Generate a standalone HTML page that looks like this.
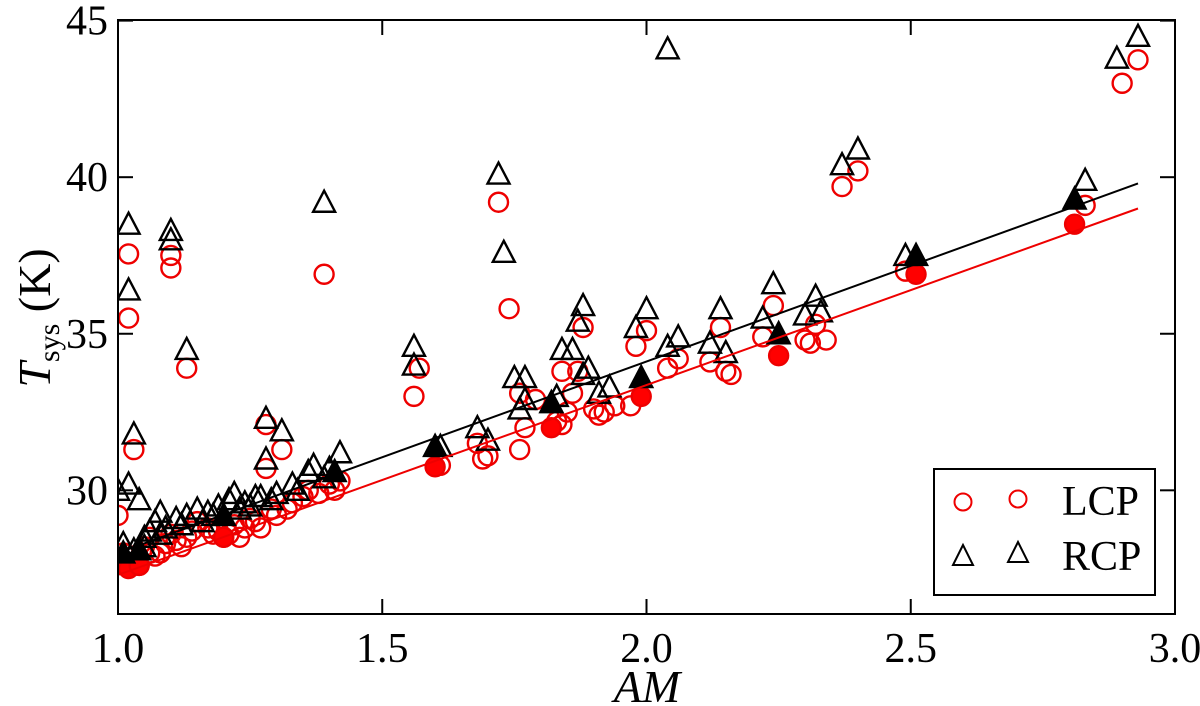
<!DOCTYPE html>
<html><head><meta charset="utf-8"><style>
html,body{margin:0;padding:0;background:#fff;}
svg{display:block;}
text{font-family:"Liberation Serif","Times New Roman",Times,"Nimbus Roman","FreeSerif","DejaVu Serif",serif;}
</style></head><body>
<svg id="chart" width="1200" height="706" viewBox="0 0 1200 706" xmlns="http://www.w3.org/2000/svg">
<g id="marks"></g>
<g id="axes"></g>
</svg>
<script>
const xTicks=[1.0,1.5,2.0,2.5,3.0];
const xTickLabels=["1.0","1.5","2.0","2.5","3.0"];
const yTicks=[30,35,40,45];
const yTickLabels=["30","35","40","45"];
const lcpOpen=[[1.02,37.55],[1.02,35.5],[1.03,31.3],[1.10,37.5],[1.10,37.1],[1.13,33.9],[1.39,36.9],[1.56,33.0],[1.57,33.9],[1.72,39.2],[1.74,35.8],[2.37,39.7],[2.40,40.2],[2.90,43.0],[2.93,43.75],[2.83,39.1],[1.28,32.1],[1.28,30.7],[1.31,31.3],
[1.00,29.2],[1.01,28.0],[1.02,27.7],[1.04,27.6],[1.05,28.2],[1.06,28.5],[1.07,27.9],[1.08,28.0],[1.09,28.3],[1.10,28.6],[1.12,28.2],[1.13,28.5],[1.15,29.0],[1.17,28.8],[1.19,28.7],[1.20,28.5],[1.21,28.6],[1.22,28.9],[1.23,28.5],[1.25,29.1],[1.27,28.8],[1.29,29.4],[1.30,29.2],[1.33,29.6],[1.36,30.0],[1.38,29.9],[1.40,30.2],[1.42,30.3],[1.61,30.8],[1.69,31.0],[1.70,31.1],[1.68,31.5],[1.76,31.3],[1.77,32.0],[1.76,33.1],[1.79,32.9],[1.83,32.2],[1.84,32.1],[1.85,32.5],[1.86,33.1],[1.87,33.8],[1.88,35.2],[1.84,33.8],[1.90,32.6],[1.91,32.4],[1.92,32.5],[1.94,32.7],[1.97,32.7],[1.98,34.6],[2.00,35.1],[2.04,33.9],[2.06,34.2],[2.12,34.1],[2.14,35.2],[2.15,33.8],[2.16,33.7],[2.22,34.9],[2.24,35.9],[2.30,34.8],[2.31,34.7],[2.32,35.3],[2.34,34.8],[2.49,37.0],
[1.03,27.9],[1.06,28.0],[1.11,28.4],[1.14,28.7],[1.18,28.6],[1.24,28.8],[1.26,29.0],[1.32,29.4],[1.35,29.8],[1.41,30.0]];
const lcpFilled=[[1.02,27.5],[1.04,27.6],[1.20,28.5],[1.60,30.75],[1.82,32.0],[1.99,33.0],[2.25,34.3],[2.51,36.9],[2.81,38.5]];
const rcpOpen=[[1.02,38.5],[1.02,36.4],[1.03,31.8],[1.10,38.3],[1.10,38.0],[1.13,34.5],[1.39,39.2],[1.56,34.6],[1.56,34.0],[1.72,40.1],[1.73,37.6],[2.04,44.1],[2.37,40.4],[2.40,40.9],[2.89,43.8],[2.93,44.5],[2.83,39.9],[1.28,32.3],[1.28,31.0],[1.31,31.9],
[1.00,30.0],[1.02,30.2],[1.04,29.7],[1.01,28.3],[1.03,28.1],[1.05,28.5],[1.06,28.7],[1.07,29.0],[1.08,29.3],[1.09,28.8],[1.11,29.1],[1.13,29.2],[1.15,29.4],[1.17,29.3],[1.19,29.5],[1.21,29.7],[1.22,29.9],[1.24,29.6],[1.26,29.8],[1.27,29.8],[1.30,29.9],[1.33,30.2],[1.36,30.6],[1.37,30.8],[1.40,30.7],[1.42,31.2],[1.61,31.4],[1.68,32.0],[1.70,31.6],[1.75,33.6],[1.77,33.6],[1.76,32.6],[1.77,32.9],[1.83,33.0],[1.84,34.5],[1.86,34.5],[1.87,35.4],[1.88,35.9],[1.88,33.7],[1.89,33.9],[1.91,33.1],[1.93,33.3],[1.98,35.2],[2.00,35.8],[2.04,34.6],[2.06,34.9],[2.12,34.7],[2.14,35.8],[2.15,34.4],[2.22,35.5],[2.24,36.6],[2.30,35.6],[2.32,36.2],[2.33,35.7],[2.49,37.5],
[1.05,28.2],[1.08,28.6],[1.12,28.9],[1.16,29.0],[1.18,29.2],[1.23,29.4],[1.25,29.5],[1.29,29.7],[1.34,30.0],[1.39,30.4]];
const rcpFilled=[[1.01,28.0],[1.04,28.1],[1.20,29.2],[1.41,30.6],[1.60,31.4],[1.82,32.8],[1.99,33.6],[2.25,35.0],[2.51,37.5],[2.81,39.3]];
const rcpFit=[[1.0,28.0],[2.93,39.8]];
const lcpFit=[[1.0,27.3],[2.93,39.0]];

const L=118,R=1175,T=20,B=614,X0=1,X1=3,Y0=26.05,Y1=45.02;
const sx=v=>L+(v-X0)/(X1-X0)*(R-L);
const sy=v=>B-(v-Y0)/(Y1-Y0)*(B-T);
const NS="http://www.w3.org/2000/svg";
function mk(tag,parent,attrs){const e=document.createElementNS(NS,tag);for(const k in attrs)e.setAttribute(k,attrs[k]);parent.appendChild(e);return e;}
const marks=document.getElementById('marks'),axes=document.getElementById('axes');
const cp=mk('clipPath',marks,{id:'clip'});
mk('rect',cp,{x:L,y:T,width:R-L,height:B-T});
const g=mk('g',marks,{'clip-path':'url(#clip)'});
function circle(p,filled,name){const c=mk('circle',g,{cx:sx(p[0]),cy:sy(p[1]),r:9.5,fill:filled?'#ff0000':'none',stroke:'#ee0000','stroke-width':2.4});

}
function tri(p,filled,name){const x=sx(p[0]),y=sy(p[1]),h=9.5;const t=mk('polygon',g,{points:`${x},${y-h-2} ${x-11},${y+h} ${x+11},${y+h}`,fill:filled?'#000':'none',stroke:'#000','stroke-width':2.4});

}
lcpOpen.forEach(p=>circle(p,false,'lcp-point'));
lcpFilled.forEach(p=>circle(p,true,'lcp-filled-point'));
rcpOpen.forEach(p=>tri(p,false,'rcp-point'));
rcpFilled.forEach(p=>tri(p,true,'rcp-filled-point'));
const l1=mk('line',g,{x1:sx(rcpFit[0][0]),y1:sy(rcpFit[0][1]),x2:sx(rcpFit[1][0]),y2:sy(rcpFit[1][1]),stroke:'#000','stroke-width':2});


const l2=mk('line',g,{x1:sx(lcpFit[0][0]),y1:sy(lcpFit[0][1]),x2:sx(lcpFit[1][0]),y2:sy(lcpFit[1][1]),stroke:'#ee0000','stroke-width':2});


const fr=mk('rect',axes,{x:L,y:T,width:R-L,height:B-T,fill:'none',stroke:'#000','stroke-width':2});


xTicks.forEach((v,i)=>{const x=sx(v);
mk('line',axes,{x1:x,y1:B,x2:x,y2:B-15,stroke:'#000','stroke-width':2});
mk('line',axes,{x1:x,y1:T,x2:x,y2:T+15,stroke:'#000','stroke-width':2});
const t=mk('text',axes,{x:x,y:B+48,'font-size':42,'text-anchor':'middle',fill:'#000'});t.textContent=xTickLabels[i];

});
yTicks.forEach((v,i)=>{const y=sy(v);
mk('line',axes,{x1:L,y1:y,x2:L+15,y2:y,stroke:'#000','stroke-width':2});
mk('line',axes,{x1:R,y1:y,x2:R-15,y2:y,stroke:'#000','stroke-width':2});
const t=mk('text',axes,{x:L-10,y:y+14,'font-size':42,'text-anchor':'end',fill:'#000'});t.textContent=yTickLabels[i];

});
const xt=mk('text',axes,{x:647,y:702,'font-size':46,'font-style':'italic','text-anchor':'middle',fill:'#000'});xt.textContent='AM';


const yt=mk('text',axes,{transform:'translate(50,318) rotate(-90)','font-size':46,'text-anchor':'middle',fill:'#000'});
yt.innerHTML='<tspan font-style="italic">T</tspan><tspan font-size="30" dy="9">sys</tspan><tspan dy="-9"> (K)</tspan>';


const lg=mk('g',axes,{});


mk('rect',lg,{x:934,y:469,width:221,height:126,fill:'#fff',stroke:'#000','stroke-width':2});
[[963,502],[1018,499]].forEach(p=>mk('circle',lg,{cx:p[0],cy:p[1],r:8.5,fill:'none',stroke:'#ee0000','stroke-width':2}));
[[963,556],[1018,553]].forEach(p=>mk('polygon',lg,{points:`${p[0]},${p[1]-11} ${p[0]-10},${p[1]+9} ${p[0]+10},${p[1]+9}`,fill:'none',stroke:'#000','stroke-width':2}));
const t1=mk('text',lg,{x:1062,y:515,'font-size':42,fill:'#000'});t1.textContent='LCP';


const t2=mk('text',lg,{x:1062,y:570,'font-size':42,fill:'#000'});t2.textContent='RCP';


</script>
</body></html>
